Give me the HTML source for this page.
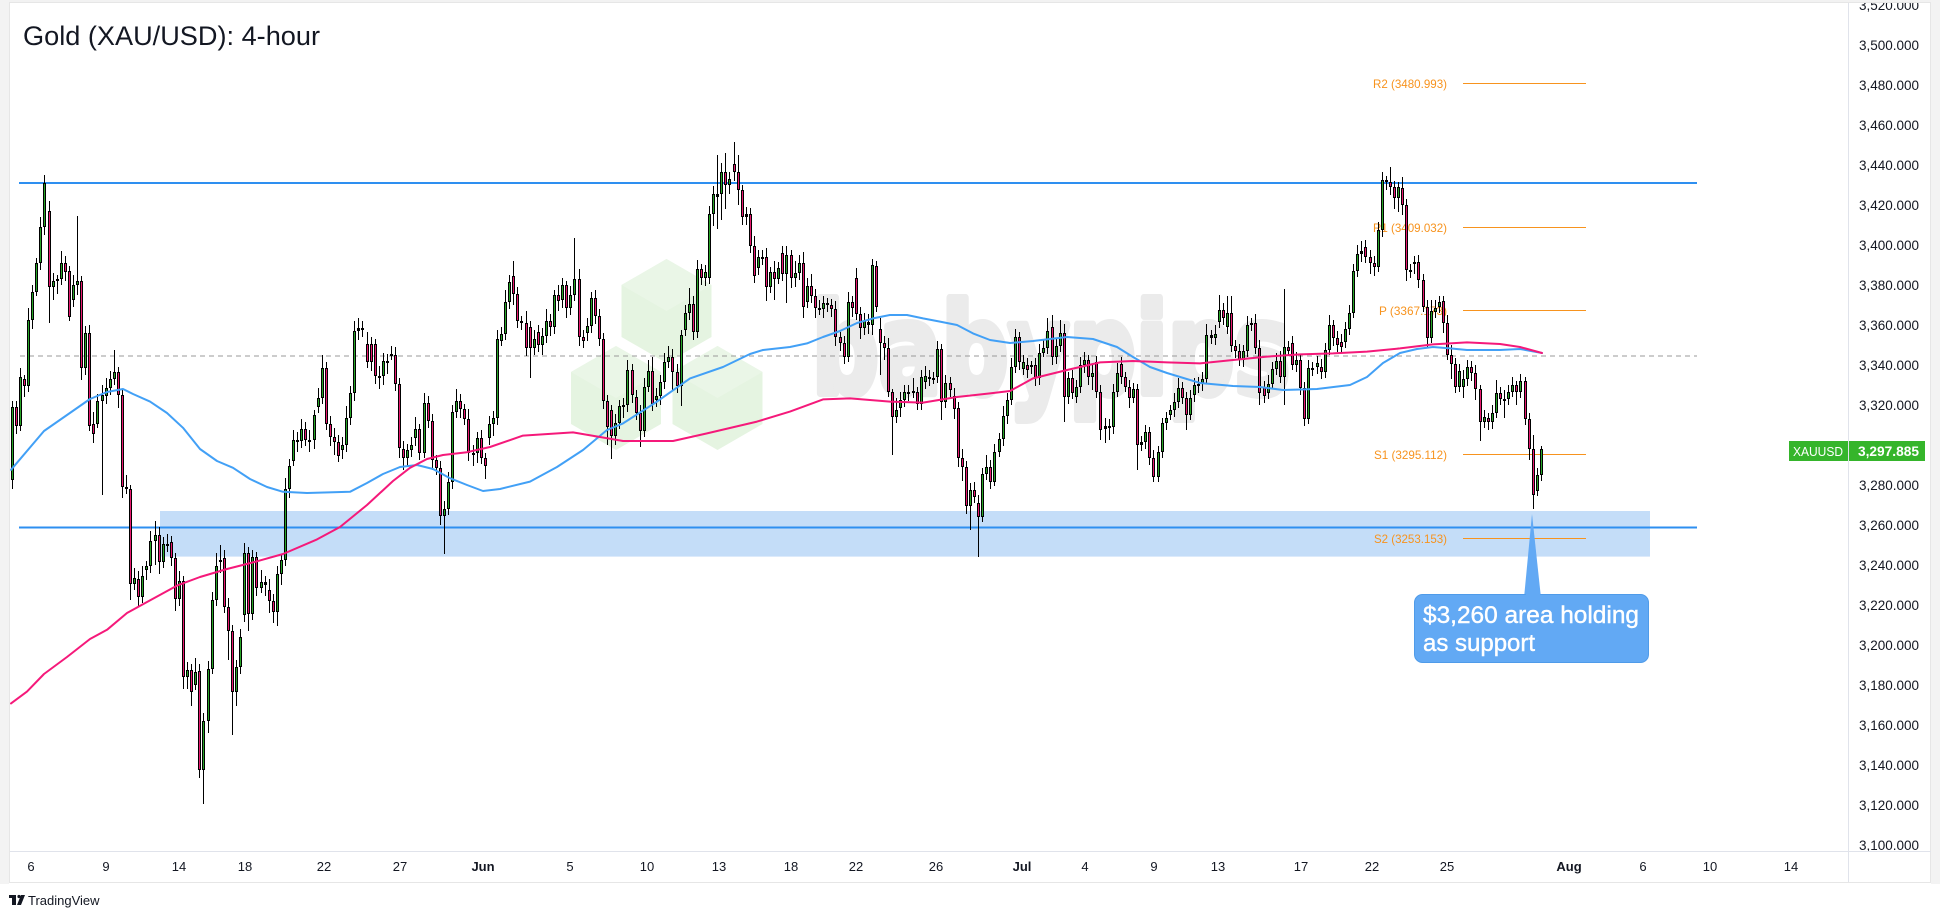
<!DOCTYPE html>
<html>
<head>
<meta charset="utf-8">
<style>
html,body{margin:0;padding:0;background:#fff;}
body{width:1940px;height:918px;overflow:hidden;position:relative;}
svg{position:absolute;left:0;top:0;}
text{font-family:"Liberation Sans",Arial,sans-serif;}
</style>
</head>
<body>
<svg xmlns="http://www.w3.org/2000/svg" width="1940" height="918" viewBox="0 0 1940 918">
<defs>
<clipPath id="pane"><rect x="10" y="3" width="1838" height="848"/></clipPath>
<clipPath id="axis"><rect x="1849" y="3" width="82" height="848"/></clipPath>
</defs>
<rect x="0" y="0" width="1940" height="918" fill="#ffffff"/>
<rect x="0" y="0" width="1940" height="3" fill="#f2f2f2"/>
<rect x="0" y="0" width="9" height="884" fill="#f3f3f3"/>
<rect x="1931" y="0" width="9" height="884" fill="#f3f3f3"/>
<rect x="9.5" y="2.5" width="1921" height="880" fill="#ffffff" stroke="#e6e6e6" stroke-width="1"/>

<g clip-path="url(#pane)">
<!-- watermark cubes -->
<g>
<polygon points="666.5,259 711.5,285 711.5,337 666.5,363 621.5,337 621.5,285" fill="#e5f4e1"/>
<polygon points="666.5,259 711.5,285 666.5,311 621.5,285" fill="#eaf6e7"/>
<polygon points="616,346 661,372 661,424 616,450 571,424 571,372" fill="#e5f4e1"/>
<polygon points="616,346 661,372 616,398 571,372" fill="#eaf6e7"/>
<polygon points="717.5,346 762.5,372 762.5,424 717.5,450 672.5,424 672.5,372" fill="#e5f4e1"/>
<polygon points="717.5,346 762.5,372 717.5,398 672.5,372" fill="#eaf6e7"/>
</g>
<text x="812" y="393" font-size="125" font-weight="bold" fill="#ebebeb" stroke="#ebebeb" stroke-width="8" stroke-linejoin="round" textLength="478" lengthAdjust="spacingAndGlyphs" style="font-family:'DejaVu Sans','Liberation Sans',sans-serif">babypips</text>

<!-- support zone -->
<rect x="160" y="511" width="1490" height="45.6" fill="#c4ddf8"/>

<!-- horizontal lines -->
<line x1="19" y1="183" x2="1697" y2="183" stroke="#2e8ff0" stroke-width="2"/>
<line x1="19" y1="527.5" x2="1697" y2="527.5" stroke="#2e8ff0" stroke-width="2"/>
<line x1="20" y1="356" x2="1697" y2="356" stroke="#9a9a9a" stroke-width="1" stroke-dasharray="5,4"/>

<!-- pivots -->
<g stroke="#f7931e" stroke-width="1">
<line x1="1463" y1="83.5" x2="1586" y2="83.5"/>
<line x1="1463" y1="227.5" x2="1586" y2="227.5"/>
<line x1="1463" y1="310.5" x2="1586" y2="310.5"/>
<line x1="1463" y1="454.5" x2="1586" y2="454.5"/>
<line x1="1463" y1="538.5" x2="1586" y2="538.5"/>
</g>
<g fill="#f7931e" font-size="12" text-anchor="end">
<text x="1447" y="88" textLength="74" lengthAdjust="spacingAndGlyphs">R2 (3480.993)</text>
<text x="1447" y="232" textLength="74" lengthAdjust="spacingAndGlyphs">R1 (3409.032)</text>
<text x="1447" y="315" textLength="68" lengthAdjust="spacingAndGlyphs">P (3367.173)</text>
<text x="1447" y="459" textLength="73" lengthAdjust="spacingAndGlyphs">S1 (3295.112)</text>
<text x="1447" y="543" textLength="73" lengthAdjust="spacingAndGlyphs">S2 (3253.153)</text>
</g>

<!-- candle wicks -->
<path fill="none" stroke="#000" stroke-width="1" d="M12.5 401V489M16.5 401V434M20.5 368V431M24.5 375V397M28.5 308V392M32.5 285V329M36.5 258V296M40.5 217V270M44.5 175V235M49.5 201V323M53.5 273V300M57.5 275V294M61.5 251V285M65.5 256V281M69.5 266V321M73.5 275V307M77.5 216V295M81.5 276V380M85.5 326V375M89.5 325V431M93.5 412V443M97.5 394V428M102.5 385V495M106.5 378V404M110.5 371V395M114.5 350V385M118.5 367V408M122.5 390V498M126.5 475V494M130.5 485V600M134.5 568V590M138.5 571V607M142.5 566V603M146.5 561V580M150.5 531V573M155.5 521V565M159.5 527V574M163.5 537V568M167.5 534V552M171.5 536V566M175.5 553V611M179.5 571V606M183.5 576V689M187.5 662V689M191.5 664V706M195.5 658V690M199.5 664V778M203.5 713V804M208.5 661V733M212.5 592V674M216.5 553V606M220.5 545V573M224.5 550V613M228.5 598V660M232.5 625V735M236.5 660V706M240.5 629V674M244.5 543V622M248.5 547V631M252.5 550V620M256.5 552V596M261.5 570V593M265.5 576V596M269.5 579V613M273.5 594V623M277.5 566V626M281.5 555V585M285.5 478V566M289.5 459V498M293.5 430V466M297.5 432V452M301.5 419V448M305.5 422V446M309.5 430V452M314.5 410V449M318.5 388V413M322.5 355V404M326.5 362V430M330.5 416V446M334.5 428V455M338.5 435V462M342.5 437V459M346.5 406V452M350.5 386V425M354.5 321V401M358.5 318V340M362.5 321V337M367.5 332V368M371.5 337V371M375.5 339V384M379.5 366V389M383.5 353V385M387.5 354V374M391.5 346V360M395.5 347V391M399.5 378V458M403.5 441V470M407.5 444V466M411.5 437V457M415.5 417V446M419.5 424V460M424.5 393V458M428.5 396V428M432.5 414V470M436.5 455V475M440.5 461V525M444.5 501V554M448.5 472V515M452.5 405V489M456.5 389V418M460.5 394V418M464.5 404V425M468.5 409V461M473.5 445V466M477.5 432V463M481.5 430V464M485.5 453V479M489.5 416V445M493.5 411V436M497.5 330V425M501.5 327V346M505.5 290V340M509.5 275V309M513.5 261V305M517.5 287V328M521.5 316V330M526.5 311V356M530.5 321V378M534.5 330V355M538.5 325V352M542.5 328V355M546.5 309V343M550.5 314V336M554.5 290V334M558.5 285V311M562.5 278V308M566.5 281V318M570.5 286V315M574.5 238V301M579.5 269V346M583.5 330V348M587.5 318V341M591.5 292V333M595.5 290V324M599.5 309V346M603.5 333V409M607.5 395V445M611.5 405V459M615.5 414V445M619.5 400V429M623.5 398V418M627.5 360V412M632.5 364V403M636.5 390V420M640.5 405V447M644.5 378V437M648.5 360V392M652.5 357V411M656.5 388V407M660.5 375V405M664.5 353V389M668.5 346V368M672.5 349V390M677.5 364V393M681.5 330V406M685.5 305V336M689.5 288V320M693.5 296V340M697.5 260V338M701.5 264V285M705.5 265V286M709.5 206V284M713.5 186V226M717.5 155V229M721.5 163V220M725.5 153V209M729.5 172V194M734.5 142V181M738.5 155V205M742.5 185V225M746.5 207V225M750.5 208V253M754.5 236V283M758.5 250V275M762.5 250V265M766.5 248V301M770.5 267V293M774.5 261V300M778.5 262V284M782.5 246V281M786.5 246V303M791.5 250V288M795.5 261V287M799.5 255V280M803.5 252V318M807.5 278V308M811.5 274V303M815.5 289V318M819.5 300V315M823.5 296V318M827.5 298V312M831.5 299V317M835.5 301V346M840.5 332V351M844.5 336V364M848.5 292V362M852.5 296V317M856.5 268V320M860.5 307V339M864.5 313V335M868.5 314V334M872.5 259V335M876.5 261V312M880.5 318V375M884.5 336V360M888.5 338V397M892.5 389V455M896.5 398V423M900.5 392V417M904.5 385V407M908.5 385V401M913.5 378V398M917.5 387V410M921.5 370V410M925.5 366V389M929.5 370V386M933.5 372V384M937.5 341V383M941.5 344V420M945.5 375V408M950.5 377V397M954.5 388V419M958.5 402V467M962.5 449V481M966.5 461V514M970.5 483V530M974.5 482V503M978.5 495V557M982.5 468V522M986.5 455V480M990.5 460V489M994.5 444V486M999.5 433V457M1003.5 406V446M1007.5 393V424M1011.5 358V405M1015.5 329V373M1019.5 332V370M1023.5 355V375M1027.5 358V378M1031.5 361V374M1035.5 358V386M1039.5 344V385M1043.5 340V357M1047.5 318V354M1052.5 315V365M1056.5 338V364M1060.5 320V352M1064.5 324V422M1068.5 372V404M1072.5 370V399M1076.5 380V403M1080.5 357V393M1084.5 352V373M1088.5 355V385M1092.5 365V390M1096.5 356V398M1100.5 385V440M1105.5 418V443M1109.5 419V440M1113.5 384V434M1117.5 363V397M1121.5 357V384M1125.5 372V392M1129.5 380V408M1133.5 383V403M1137.5 384V470M1141.5 436V451M1145.5 425V449M1149.5 427V465M1153.5 450V482M1158.5 446V482M1162.5 418V458M1166.5 412V430M1170.5 405V420M1174.5 393V417M1178.5 378V408M1182.5 382V404M1186.5 392V430M1190.5 390V420M1194.5 378V402M1198.5 377V393M1202.5 372V391M1206.5 324V384M1211.5 330V344M1215.5 325V345M1219.5 295V328M1223.5 303V325M1227.5 296V334M1231.5 296V352M1235.5 340V358M1239.5 344V366M1243.5 345V367M1247.5 316V357M1251.5 318V331M1255.5 314V354M1259.5 340V405M1264.5 381V403M1268.5 375V399M1272.5 362V389M1276.5 353V375M1280.5 351V383M1284.5 289V405M1288.5 341V356M1292.5 336V370M1296.5 352V372M1300.5 354V395M1304.5 382V426M1308.5 360V424M1312.5 362V376M1317.5 356V374M1321.5 359V379M1325.5 343V378M1329.5 315V355M1333.5 320V346M1337.5 331V352M1341.5 334V353M1345.5 322V348M1349.5 305V335M1353.5 264V318M1357.5 245V277M1361.5 241V262M1365.5 240V263M1370.5 250V274M1374.5 256V276M1378.5 222V272M1382.5 172V237M1386.5 176V190M1390.5 167V195M1394.5 181V209M1398.5 182V212M1402.5 177V215M1406.5 199V281M1410.5 264V278M1414.5 256V274M1418.5 255V288M1423.5 274V312M1427.5 300V347M1431.5 300V343M1435.5 300V318M1439.5 296V313M1443.5 296V333M1447.5 315V360M1451.5 345V379M1455.5 358V393M1459.5 364V392M1463.5 370V398M1467.5 360V386M1471.5 361V381M1475.5 365V400M1480.5 385V441M1484.5 410V428M1488.5 413V430M1492.5 405V429M1496.5 380V418M1500.5 387V405M1504.5 390V418M1508.5 385V405M1512.5 377V397M1516.5 381V405M1520.5 374V398M1525.5 377V425M1529.5 413V460M1533.5 435V509M1537.5 468V496M1541.5 446V481"/>

<!-- candle bodies (outline) -->
<path fill="none" stroke="#000" stroke-width="3" d="M12.5 407V480M16.5 407V426M20.5 377V426M24.5 379V386M28.5 320V386M32.5 292V320M36.5 263V292M40.5 227V263M44.5 183V227M49.5 211V287M53.5 281V287M57.5 279V281M61.5 263V279M65.5 263V272M69.5 271V317M73.5 285V300M77.5 281V285M81.5 281V368M85.5 333V368M89.5 333V426M93.5 424V434M97.5 401V424M102.5 395V401M106.5 388V396M110.5 379V388M114.5 372V379M118.5 372V395M122.5 395V487M126.5 487V489M130.5 489V584M134.5 578V584M138.5 579V597M142.5 576V597M146.5 566V570M150.5 541V566M155.5 535V541M159.5 535V562M163.5 544V562M167.5 544V546M171.5 542V558M175.5 558V599M179.5 581V599M183.5 581V677M187.5 670V677M191.5 670V692M195.5 672V685M199.5 671V770M203.5 721V770M208.5 669V721M212.5 600V669M216.5 566V600M220.5 560V562M224.5 558V607M228.5 607V631M232.5 631V692M236.5 667V692M240.5 637V667M244.5 553V615M248.5 553V614M252.5 557V614M256.5 557V588M261.5 582V588M265.5 582V585M269.5 590V601M273.5 601V612M277.5 574V612M281.5 560V574M285.5 489V560M289.5 466V489M293.5 440V461M297.5 440V442M301.5 429V441M305.5 429V440M309.5 440V442M314.5 415V440M318.5 398V407M322.5 368V398M326.5 368V424M330.5 424V437M334.5 437V442M338.5 442V456M342.5 445V450M346.5 418V445M350.5 393V418M354.5 331V393M358.5 328V331M362.5 328V330M367.5 344V362M371.5 344V362M375.5 344V376M379.5 376V378M383.5 361V376M387.5 361V363M391.5 354V356M395.5 355V384M399.5 384V448M403.5 449V458M407.5 450V458M411.5 445V450M415.5 429V438M419.5 429V453M424.5 403V453M428.5 403V421M432.5 421V460M436.5 460V468M440.5 468V516M444.5 509V516M448.5 482V509M452.5 412V482M456.5 401V412M460.5 401V409M464.5 409V419M468.5 419V453M473.5 453V455M477.5 438V453M481.5 438V458M485.5 458V466M489.5 424V438M493.5 418V424M497.5 339V418M501.5 334V341M505.5 302V334M509.5 282V302M513.5 276V294M517.5 294V321M521.5 321V323M526.5 323V348M530.5 327V348M534.5 339V348M538.5 332V345M542.5 336V345M546.5 321V336M550.5 321V327M554.5 295V327M558.5 295V301M562.5 285V300M566.5 285V308M570.5 295V308M574.5 279V295M579.5 279V337M583.5 337V341M587.5 326V333M591.5 298V326M595.5 298V316M599.5 316V339M603.5 339V401M607.5 401V427M611.5 410V436M615.5 423V436M619.5 406V423M623.5 405V407M627.5 370V405M632.5 370V395M636.5 397V413M640.5 413V431M644.5 387V431M648.5 371V387M652.5 371V404M656.5 396V400M660.5 382V396M664.5 362V382M668.5 357V362M672.5 357V372M677.5 372V386M681.5 335V386M685.5 313V330M689.5 304V313M693.5 304V332M697.5 269V332M701.5 269V278M705.5 272V278M709.5 214V278M713.5 194V214M717.5 194V197M721.5 172V194M725.5 172V185M729.5 179V185M734.5 164V172M738.5 172V190M742.5 190V217M746.5 214V217M750.5 214V246M754.5 246V276M758.5 257V268M762.5 257V259M766.5 257V287M770.5 272V287M774.5 272V279M778.5 268V279M782.5 253V274M786.5 255V274M791.5 255V278M795.5 273V278M799.5 263V273M803.5 263V307M807.5 286V302M811.5 286V296M815.5 296V308M819.5 308V310M823.5 303V309M827.5 303V305M831.5 305V309M835.5 309V337M840.5 337V343M844.5 343V357M848.5 302V357M852.5 302V308M856.5 278V314M860.5 314V328M864.5 321V328M868.5 322V325M872.5 265V325M876.5 266V307M880.5 329V343M884.5 343V348M888.5 348V392M892.5 392V417M896.5 410V417M900.5 400V408M904.5 392V400M908.5 392V394M913.5 391V393M917.5 392V404M921.5 377V404M925.5 376V382M929.5 377V379M933.5 378V380M937.5 349V377M941.5 349V402M945.5 383V402M950.5 383V390M954.5 396V409M958.5 408V458M962.5 458V467M966.5 467V506M970.5 490V506M974.5 490V497M978.5 503V517M982.5 474V517M986.5 467V474M990.5 467V482M994.5 452V482M999.5 439V452M1003.5 416V439M1007.5 400V416M1011.5 367V400M1015.5 337V367M1019.5 337V362M1023.5 362V369M1027.5 365V370M1031.5 365V367M1035.5 365V378M1039.5 353V378M1043.5 348V353M1047.5 331V348M1052.5 327V357M1056.5 346V357M1060.5 333V346M1064.5 333V397M1068.5 378V397M1072.5 378V393M1076.5 387V397M1080.5 365V387M1084.5 360V365M1088.5 360V377M1092.5 373V377M1096.5 362V392M1100.5 392V430M1105.5 426V429M1109.5 426V428M1113.5 392V427M1117.5 373V392M1121.5 364V377M1125.5 377V387M1129.5 387V398M1133.5 389V398M1137.5 389V445M1141.5 442V445M1145.5 432V442M1149.5 432V458M1153.5 458V477M1158.5 452V477M1162.5 423V452M1166.5 418V423M1170.5 410V415M1174.5 402V410M1178.5 388V402M1182.5 388V398M1186.5 398V415M1190.5 398V415M1194.5 385V395M1198.5 384V386M1202.5 379V383M1206.5 335V379M1211.5 335V338M1215.5 334V338M1219.5 310V322M1223.5 310V318M1227.5 313V327M1231.5 313V346M1235.5 346V351M1239.5 351V360M1243.5 351V360M1247.5 325V351M1251.5 323V325M1255.5 323V348M1259.5 348V393M1264.5 387V396M1268.5 384V393M1272.5 369V384M1276.5 361V369M1280.5 361V377M1284.5 347V377M1288.5 347V351M1292.5 343V365M1296.5 360V365M1300.5 360V388M1304.5 388V419M1308.5 368V419M1312.5 368V370M1317.5 363V367M1321.5 367V372M1325.5 350V372M1329.5 325V350M1333.5 325V338M1337.5 338V345M1341.5 342V347M1345.5 329V342M1349.5 313V329M1353.5 271V313M1357.5 254V271M1361.5 251V254M1365.5 247V257M1370.5 257V263M1374.5 263V267M1378.5 230V267M1382.5 180V230M1386.5 180V182M1390.5 182V187M1394.5 187V198M1398.5 187V198M1402.5 188V205M1406.5 205V270M1410.5 270V272M1414.5 262V264M1418.5 262V280M1423.5 280V307M1427.5 307V338M1431.5 311V338M1435.5 308V312M1439.5 302V307M1443.5 301V323M1447.5 323V355M1451.5 355V364M1455.5 364V387M1459.5 371V387M1463.5 379V387M1467.5 367V379M1471.5 367V373M1475.5 373V389M1480.5 389V422M1484.5 417V422M1488.5 418V422M1492.5 413V422M1496.5 393V413M1500.5 393V399M1504.5 399V401M1508.5 392V399M1512.5 385V392M1516.5 385V392M1520.5 381V392M1525.5 381V419M1529.5 419V449M1533.5 449V495M1537.5 475V491M1541.5 449V475"/>

<!-- green fills -->
<path fill="none" stroke="#27a527" stroke-width="1" d="M12.5 408V479M20.5 378V425M28.5 321V385M32.5 293V319M36.5 264V291M40.5 228V262M44.5 184V226M53.5 282V286M61.5 264V278M73.5 286V299M77.5 282V284M85.5 334V367M97.5 402V423M102.5 396V400M106.5 389V395M110.5 380V387M114.5 373V378M134.5 579V583M142.5 577V596M146.5 567V569M150.5 542V565M155.5 536V540M163.5 545V561M179.5 582V598M187.5 671V676M195.5 673V684M203.5 722V769M208.5 670V720M212.5 601V668M216.5 567V599M236.5 668V691M240.5 638V666M244.5 554V614M252.5 558V613M261.5 583V587M277.5 575V611M281.5 561V573M285.5 490V559M289.5 467V488M293.5 441V460M301.5 430V440M314.5 416V439M318.5 399V406M322.5 369V397M342.5 446V449M346.5 419V444M350.5 394V417M354.5 332V392M383.5 362V375M407.5 451V457M411.5 446V449M415.5 430V437M424.5 404V452M444.5 510V515M448.5 483V508M452.5 413V481M456.5 402V411M477.5 439V452M489.5 425V437M493.5 419V423M497.5 340V417M501.5 335V340M505.5 303V333M509.5 283V301M534.5 340V347M542.5 337V344M546.5 322V335M554.5 296V326M562.5 286V299M570.5 296V307M574.5 280V294M587.5 327V332M591.5 299V325M615.5 424V435M619.5 407V422M627.5 371V404M644.5 388V430M648.5 372V386M656.5 397V399M660.5 383V395M664.5 363V381M668.5 358V361M681.5 336V385M685.5 314V329M689.5 305V312M697.5 270V331M705.5 273V277M709.5 215V277M713.5 195V213M721.5 173V193M729.5 180V184M758.5 258V267M770.5 273V286M778.5 269V278M786.5 256V273M795.5 274V277M799.5 264V272M807.5 287V301M823.5 304V308M848.5 303V356M864.5 322V327M872.5 266V324M896.5 411V416M900.5 401V407M904.5 393V399M921.5 378V403M925.5 377V381M937.5 350V376M945.5 384V401M970.5 491V505M982.5 475V516M986.5 468V473M994.5 453V481M999.5 440V451M1003.5 417V438M1007.5 401V415M1011.5 368V399M1015.5 338V366M1023.5 363V368M1039.5 354V377M1043.5 349V352M1047.5 332V347M1056.5 347V356M1060.5 334V345M1068.5 379V396M1076.5 388V396M1080.5 366V386M1084.5 361V364M1092.5 374V376M1113.5 393V426M1117.5 374V391M1133.5 390V397M1145.5 433V441M1158.5 453V476M1162.5 424V451M1166.5 419V422M1170.5 411V414M1174.5 403V409M1178.5 389V401M1190.5 399V414M1194.5 386V394M1202.5 380V382M1206.5 336V378M1215.5 335V337M1219.5 311V321M1227.5 314V326M1243.5 352V359M1247.5 326V350M1268.5 385V392M1272.5 370V383M1276.5 362V368M1284.5 348V376M1296.5 361V364M1308.5 369V418M1317.5 364V366M1325.5 351V371M1329.5 326V349M1345.5 330V341M1349.5 314V328M1353.5 272V312M1357.5 255V270M1378.5 231V266M1382.5 181V229M1398.5 188V197M1431.5 312V337M1435.5 309V311M1439.5 303V306M1459.5 372V386M1463.5 380V386M1467.5 368V378M1484.5 418V421M1492.5 414V421M1496.5 394V412M1508.5 393V398M1512.5 386V391M1520.5 382V391M1537.5 476V490M1541.5 450V474"/>

<!-- pink fills -->
<path fill="none" stroke="#e8196f" stroke-width="1" d="M16.5 408V425M24.5 380V385M49.5 212V286M65.5 264V271M69.5 272V316M81.5 282V367M89.5 334V425M93.5 425V433M118.5 373V394M122.5 396V486M130.5 490V583M138.5 580V596M159.5 536V561M171.5 543V557M175.5 559V598M183.5 582V676M191.5 671V691M199.5 672V769M224.5 559V606M228.5 608V630M232.5 632V691M248.5 554V613M256.5 558V587M269.5 591V600M273.5 602V611M305.5 430V439M326.5 369V423M330.5 425V436M334.5 438V441M338.5 443V455M367.5 345V361M371.5 345V361M375.5 345V375M395.5 356V383M399.5 385V447M403.5 450V457M419.5 430V452M428.5 404V420M432.5 422V459M436.5 461V467M440.5 469V515M460.5 402V408M464.5 410V418M468.5 420V452M481.5 439V457M485.5 459V465M513.5 277V293M517.5 295V320M526.5 324V347M530.5 328V347M538.5 333V344M550.5 322V326M558.5 296V300M566.5 286V307M579.5 280V336M583.5 338V340M595.5 299V315M599.5 317V338M603.5 340V400M607.5 402V426M611.5 411V435M632.5 371V394M636.5 398V412M640.5 414V430M652.5 372V403M672.5 358V371M677.5 373V385M693.5 305V331M701.5 270V277M725.5 173V184M734.5 165V171M738.5 173V189M742.5 191V216M750.5 215V245M754.5 247V275M766.5 258V286M774.5 273V278M782.5 254V273M791.5 256V277M803.5 264V306M811.5 287V295M815.5 297V307M831.5 306V308M835.5 310V336M840.5 338V342M844.5 344V356M852.5 303V307M856.5 279V313M860.5 315V327M876.5 267V306M880.5 330V342M884.5 344V347M888.5 349V391M892.5 393V416M917.5 393V403M941.5 350V401M950.5 384V389M954.5 397V408M958.5 409V457M962.5 459V466M966.5 468V505M974.5 491V496M978.5 504V516M990.5 468V481M1019.5 338V361M1027.5 366V369M1035.5 366V377M1052.5 328V356M1064.5 334V396M1072.5 379V392M1088.5 361V376M1096.5 363V391M1100.5 393V429M1121.5 365V376M1125.5 378V386M1129.5 388V397M1137.5 390V444M1149.5 433V457M1153.5 459V476M1182.5 389V397M1186.5 399V414M1223.5 311V317M1231.5 314V345M1235.5 347V350M1239.5 352V359M1255.5 324V347M1259.5 349V392M1264.5 388V395M1280.5 362V376M1288.5 348V350M1292.5 344V364M1300.5 361V387M1304.5 389V418M1321.5 368V371M1333.5 326V337M1337.5 339V344M1341.5 343V346M1365.5 248V256M1370.5 258V262M1374.5 264V266M1390.5 183V186M1394.5 188V197M1402.5 189V204M1406.5 206V269M1418.5 263V279M1423.5 281V306M1427.5 308V337M1443.5 302V322M1447.5 324V354M1451.5 356V363M1455.5 365V386M1471.5 368V372M1475.5 374V388M1480.5 390V421M1488.5 419V421M1500.5 394V398M1516.5 386V391M1525.5 382V418M1529.5 420V448M1533.5 450V494"/>

<!-- moving averages -->
<polyline fill="none" stroke="#42a0f6" stroke-width="2" stroke-linejoin="round" stroke-linecap="round" points="11,469.8 44,431 67,415 90,399 107,392 123,389 133,394 150,401.6 167,413 183,427.8 200,449 217,461 233,467.8 250,479 267,487 283,491.8 307,493 333,492.2 350,491.8 367,483 383,474 400,467 417,465 433,469 450,478.2 467,485 483,491 500,489 530,481.6 557,467 583,450 607,430 623,423.4 657,401.6 690,378.4 723,367 750,354 763,350 790,347 807,343.4 823,337 840,331 857,323 873,318.4 890,315 907,315 923,318.4 940,321.6 957,325 973,333.4 990,340 1010,343 1033,341 1067,337 1093,339 1117,347 1133,357 1150,367 1167,373 1200,383 1233,386 1260,387 1283,390 1317,389 1350,385 1367,377 1383,363 1400,353 1417,349 1433,347 1450,348.4 1467,350 1500,350 1520,349 1542,353"/>
<polyline fill="none" stroke="#f5197a" stroke-width="2" stroke-linejoin="round" stroke-linecap="round" points="11,703.4 27,691.6 44,674 67,657 90,639 107,629.8 127,613 150,600.4 177,585.6 200,577 227,569 253,562.4 283,554 317,539.4 340,527 367,505 393,481 410,467.8 427,459 443,455 467,452.2 490,447 523,435.6 573,432.4 600,437 623,441 673,441 707,433.4 757,421.6 790,411.6 823,399.4 850,398.4 890,401.6 923,402.6 957,397 990,393.4 1010,391 1033,378.4 1067,370 1100,362.4 1133,361 1167,362.4 1200,363.4 1233,360 1267,356.6 1300,354.4 1333,353.4 1367,351.6 1400,348.4 1433,344.4 1467,342.4 1500,344 1520,347 1542,353"/>

<!-- callout -->
<polygon points="1532,514 1524,598 1541,598" fill="#62a9f4"/>
<rect x="1414.5" y="594.5" width="234" height="68" rx="8" ry="8" fill="#62a9f4" stroke="#4f9be9" stroke-width="1"/>
<polygon points="1532,516 1525.5,597 1540.5,597" fill="#62a9f4"/>
<g fill="#ffffff" font-size="24" stroke="#ffffff" stroke-width="0.4">
<text x="1423" y="623" textLength="216" lengthAdjust="spacingAndGlyphs">$3,260 area holding</text>
<text x="1423" y="651">as support</text>
</g>
</g>

<!-- title -->
<text x="23" y="45" font-size="27" fill="#131722" textLength="297" lengthAdjust="spacingAndGlyphs">Gold (XAU/USD): 4-hour</text>

<!-- price axis -->
<line x1="1848.5" y1="3" x2="1848.5" y2="882" stroke="#e0e3eb" stroke-width="1"/>
<g clip-path="url(#axis)" font-size="13.5" fill="#131722" text-anchor="end">
<text x="1919" y="10">3,520.000</text>
<text x="1919" y="50">3,500.000</text>
<text x="1919" y="90">3,480.000</text>
<text x="1919" y="130">3,460.000</text>
<text x="1919" y="170">3,440.000</text>
<text x="1919" y="210">3,420.000</text>
<text x="1919" y="250">3,400.000</text>
<text x="1919" y="290">3,380.000</text>
<text x="1919" y="330">3,360.000</text>
<text x="1919" y="370">3,340.000</text>
<text x="1919" y="410">3,320.000</text>
<text x="1919" y="490">3,280.000</text>
<text x="1919" y="530">3,260.000</text>
<text x="1919" y="570">3,240.000</text>
<text x="1919" y="610">3,220.000</text>
<text x="1919" y="650">3,200.000</text>
<text x="1919" y="690">3,180.000</text>
<text x="1919" y="730">3,160.000</text>
<text x="1919" y="770">3,140.000</text>
<text x="1919" y="810">3,120.000</text>
<text x="1919" y="850">3,100.000</text>
</g>

<!-- last price label -->
<rect x="1789" y="441" width="59" height="20" fill="#35b52b"/>
<rect x="1849" y="441" width="76" height="20" fill="#35b52b"/>
<text x="1793" y="456" font-size="12.5" fill="#ffffff" textLength="50" lengthAdjust="spacingAndGlyphs">XAUUSD</text>
<text x="1919" y="456" font-size="13.5" font-weight="bold" fill="#ffffff" text-anchor="end" textLength="61" lengthAdjust="spacingAndGlyphs">3,297.885</text>

<!-- time axis -->
<line x1="10" y1="851.5" x2="1931" y2="851.5" stroke="#e0e3eb" stroke-width="1"/>
<g font-size="13" fill="#131722" text-anchor="middle">
<text x="31" y="871">6</text>
<text x="106" y="871">9</text>
<text x="179" y="871">14</text>
<text x="245" y="871">18</text>
<text x="324" y="871">22</text>
<text x="400" y="871">27</text>
<text x="483" y="871" font-weight="bold">Jun</text>
<text x="570" y="871">5</text>
<text x="647" y="871">10</text>
<text x="719" y="871">13</text>
<text x="791" y="871">18</text>
<text x="856" y="871">22</text>
<text x="936" y="871">26</text>
<text x="1022" y="871" font-weight="bold">Jul</text>
<text x="1085" y="871">4</text>
<text x="1154" y="871">9</text>
<text x="1218" y="871">13</text>
<text x="1301" y="871">17</text>
<text x="1372" y="871">22</text>
<text x="1447" y="871">25</text>
<text x="1569" y="871" font-weight="bold">Aug</text>
<text x="1643" y="871">6</text>
<text x="1710" y="871">10</text>
<text x="1791" y="871">14</text>
</g>

<!-- TradingView logo -->
<g fill="#131722">
<rect x="9" y="895" width="7" height="3"/>
<rect x="12" y="895" width="4" height="10"/>
<circle cx="19" cy="896.5" r="1.6"/>
<polygon points="21,895 25,895 21,905 17,905"/>
</g>
<text x="28" y="905" font-size="13" fill="#131722">TradingView</text>
</svg>
</body>
</html>
